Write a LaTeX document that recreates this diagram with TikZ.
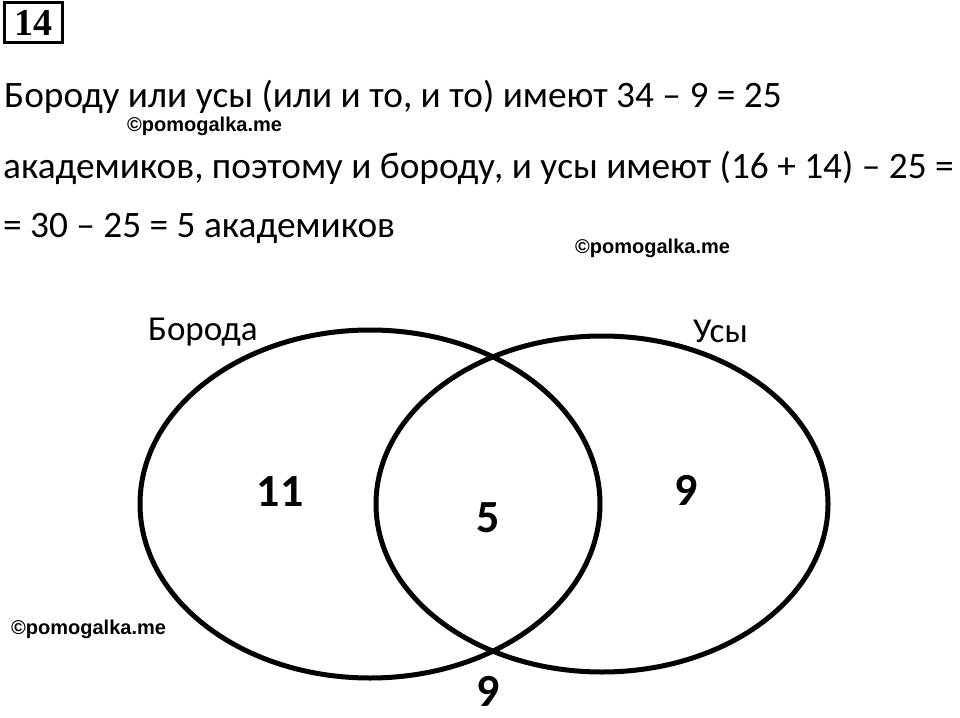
\documentclass[tikz,border=0pt]{standalone}
\usepackage{fontspec}
\usepackage{tikz}
\setmainfont{Carlito}
\newfontfamily\wmfont{Liberation Sans}
\newfontfamily\boxfont{Liberation Serif}
\tikzstyle{textline} = [anchor=base west, inner sep=0pt, font=\fontsize{37.3}{40}\selectfont]
\tikzstyle{watermark} = [anchor=base west, inner sep=0pt, font=\wmfont\bfseries\fontsize{20}{22}\selectfont]
\tikzstyle{setlabel} = [anchor=base west, inner sep=0pt, font=\fontsize{35}{37}\selectfont]
\tikzstyle{count} = [inner sep=0pt, font=\bfseries\fontsize{46}{48}\selectfont]
\tikzstyle{oval} = [line width=5pt]

\begin{document}
\begin{tikzpicture}[x=1pt, y=-1pt]
		\useasboundingbox (0,0) rectangle (960,717);
		\node [draw, line width=3pt, inner sep=0pt, minimum width=58pt, minimum height=40pt, font=\boxfont\bfseries\fontsize{38}{40}\selectfont] (title) at (33,23) {14};

		\node [textline] (line1) at (4,107) {Бороду или усы (или и то, и то) имеют 34 – 9 = 25};
		\node [textline] (line2) at (3,178) {академиков, поэтому и бороду, и усы имеют (16 + 14) – 25 =};
		\node [textline] (line3) at (3,237) {= 30 – 25 = 5 академиков};

		\node [watermark] (wm1) at (127,131) {©pomogalka.me};
		\node [watermark] (wm2) at (575,253) {©pomogalka.me};
		\node [watermark] (wm3) at (11,634) {©pomogalka.me};

		% two sets
		\draw [oval] (370,504) ellipse [x radius=230pt, y radius=174pt];
		\draw [oval] (602,504) ellipse [x radius=226pt, y radius=168pt];

		\node [setlabel] (beard) at (148,340) {Борода};
		\node [setlabel] (mustache) at (693,342) {Усы};

		\node [count] (only11) at (280,492) {11};
		\node [count] (both5) at (488,518) {5};
		\node [count] (only9) at (686,490) {9};
		\node [count] (none9) at (488,691) {9};
	\end{tikzpicture}
\end{document}
